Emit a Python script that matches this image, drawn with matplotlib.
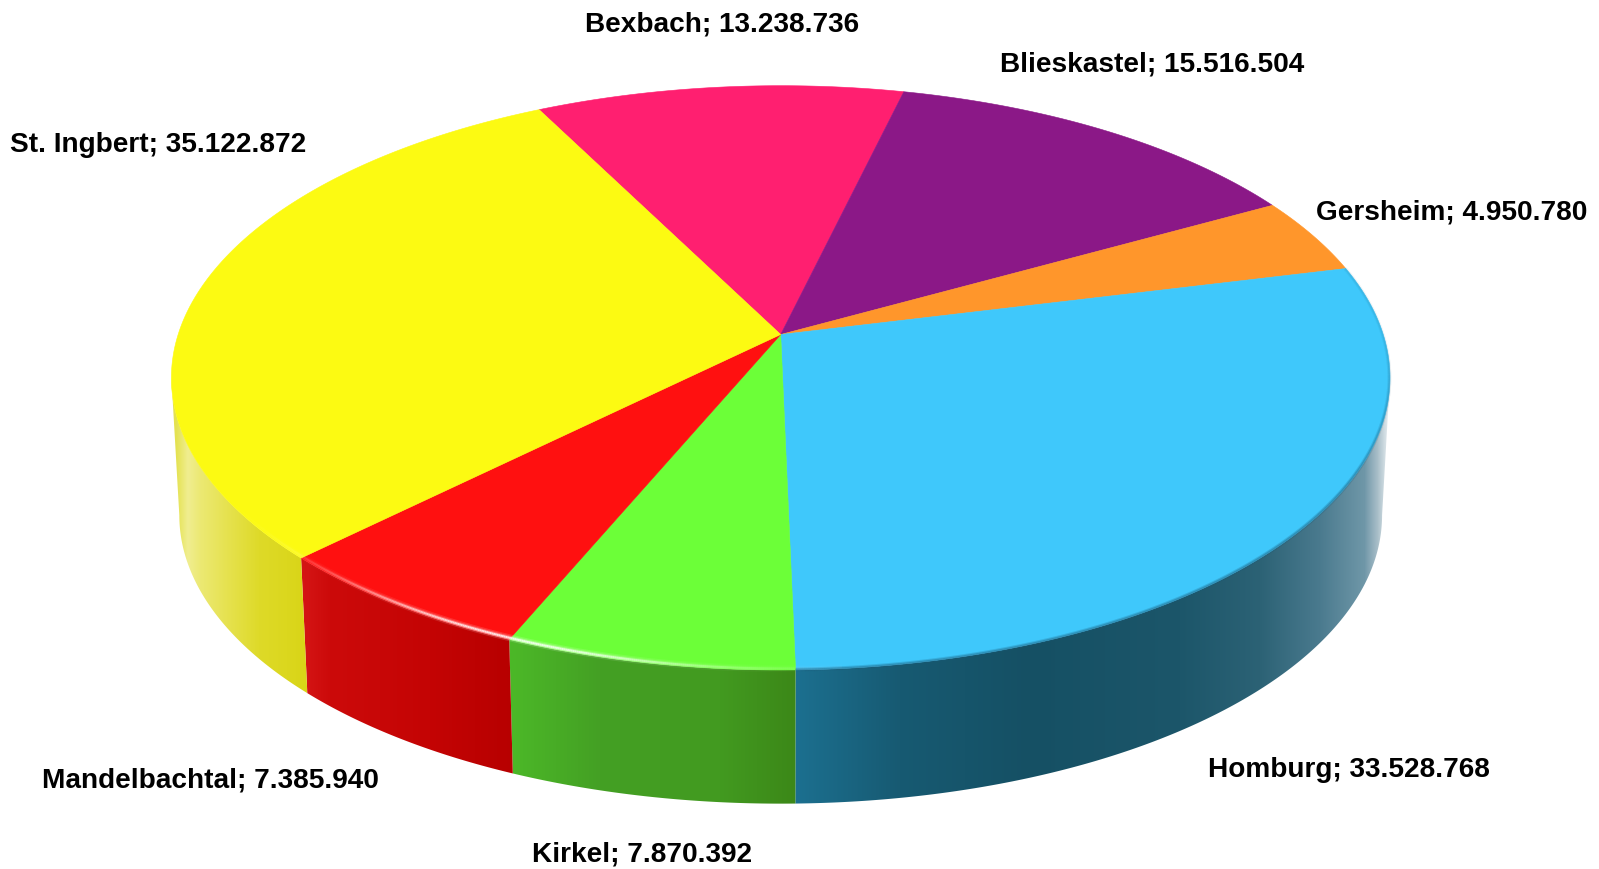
#!/usr/bin/env python3
"""Perspective 3D pie: Bexbach ... St. Ingbert, drawn as polygons in pixel space."""
import numpy as np
import matplotlib
matplotlib.use("Agg")
import matplotlib.pyplot as plt
from matplotlib.collections import LineCollection
from matplotlib.colors import to_rgb
from matplotlib.patches import Polygon

towns = ["Bexbach", "Blieskastel", "Gersheim", "Homburg", "Kirkel", "Mandelbachtal", "St. Ingbert"]
values = [13238736, 15516504, 4950780, 33528768, 7870392, 7385940, 35122872]
top_colors = ["#FF1F70", "#8B1887", "#FF962B", "#3FC8FB", "#6CFF38", "#FF1010", "#FCFA12"]
label_pos = [(585, 25), (999.5, 64), (1316.5, 213), (1208.5, 770), (532, 854.5), (42, 781), (10, 145)]

# side shading: (image x, colour) stops per slice
side_stops = {
    "St. Ingbert": [(176, "#E4E250"), (188, "#F0EE90"), (200, "#ECE974"), (227, "#E6E250"), (260, "#DEDA28"), (315, "#D8D414")],
    "Mandelbachtal": [(306, "#D41414"), (330, "#CC0A0A"), (430, "#C40404"), (520, "#B60000")],
    "Kirkel": [(512, "#4CB828"), (600, "#44A024"), (720, "#429A20"), (795, "#3C8818")],
    "Homburg": [(795, "#1C7090"), (900, "#175A72"), (1030, "#155064"), (1180, "#1C566A"), (1260, "#2C6275"),
                (1320, "#4A7A8E"), (1365, "#6F97A8"), (1378, "#A8BEC8"), (1388, "#E0E8EC")],
}

CX, CY, HALF_W, FAR, NEAR = 780.7, 334.5, 609.3, 248.8, 335.5
START = 117.0
DEPTH_SCALE, CY_BOTTOM = 0.987, 472.5

k = (NEAR - FAR) / (NEAR + FAR)
B = FAR * (1 + k)
A = HALF_W * np.sqrt(1 - k ** 2)
TANGENT = np.degrees(np.arcsin(k))          # angle of the left/right extreme of the outline


def project(deg, r=1.0, bottom=False):
    t = np.radians(deg)
    u, v = r * np.cos(t), r * np.sin(t)
    w = 1 + k * v
    s, cy = (DEPTH_SCALE, CY_BOTTOM) if bottom else (1.0, CY)
    return CX + s * A * u / w, cy - s * B * v / w


def gradient(stops, x):
    xs = [p[0] for p in stops]
    rgb = np.array([to_rgb(p[1]) for p in stops])
    return np.column_stack([np.interp(x, xs, rgb[:, i]) for i in range(3)])


def rim_segments(angs, r):
    x, y = project(angs, r=r)
    return [[(x[i], y[i]), (x[i + 1], y[i + 1])] for i in range(len(angs) - 1)]


fig = plt.figure(figsize=(15.99, 8.69), dpi=100)
ax = fig.add_axes([0, 0, 1, 1])

edges = START - np.concatenate([[0], np.cumsum(values)]) / sum(values) * 360

# sides first, the top surface then hides what overlaps
for name, a0, a1 in zip(towns, edges[:-1], edges[1:]):
    if name not in side_stops:
        continue
    angs = np.linspace(min(a0, -TANGENT), max(a1, -180 + TANGENT), 300)
    xt, yt = project(angs)
    xb, yb = project(angs, bottom=True)
    poly = Polygon(np.column_stack([np.r_[xt, xb[::-1]], np.r_[yt, yb[::-1]]]), closed=True,
                   facecolor="none", edgecolor="none", transform=ax.transData)
    ax.add_patch(poly)
    x0, x1 = min(xt.min(), xb.min()), max(xt.max(), xb.max())
    grid = np.linspace(x0, x1, int(x1 - x0) + 1)
    im = ax.imshow(gradient(side_stops[name], grid)[None, :, :], extent=(x0, x1, 869, 0), aspect="auto",
                   interpolation="bilinear", zorder=2)
    im.set_clip_path(poly)

for col, a0, a1 in zip(top_colors, edges[:-1], edges[1:]):
    x, y = project(np.linspace(a0, a1, 300))
    ax.fill(np.r_[CX, x], np.r_[CY, y], facecolor=col, edgecolor=col, linewidth=0.4, zorder=3)

# rim: white glint on the red/green part, dark soft edge on the blue part
angs = np.linspace(-150, -85, 400)
segs = rim_segments(angs, 0.996)
glint = np.exp(-((angs[:-1] + 113) / 16) ** 2)
for lw, alpha in [(5.0, 0.15), (3.0, 0.3), (1.5, 0.8)]:
    cols = np.column_stack([np.ones((len(segs), 3)), glint * alpha])
    ax.add_collection(LineCollection(segs, colors=cols, linewidths=lw, zorder=4))

angs = np.linspace(edges[4], edges[3], 400)
segs = rim_segments(angs, 0.999)
fade = np.clip((10 - angs[:-1]) / 40, 0.25, 1)     # faint at the far end, stronger towards the front
for lw, alpha in [(2.8, 0.22), (1.3, 0.35)]:
    cols = np.column_stack([np.tile(to_rgb("#1A5A78"), (len(segs), 1)), fade * alpha])
    ax.add_collection(LineCollection(segs, colors=cols, linewidths=lw, zorder=4))

for name, v, (lx, ly) in zip(towns, values, label_pos):
    ax.text(lx, ly, f"{name}; {v:,}".replace(",", "."), ha="left", va="center",
            fontsize=20.2, fontweight="bold", family="Liberation Sans", color="black", zorder=5)

ax.set_xlim(0, 1599); ax.set_ylim(869, 0); ax.axis("off")
fig.savefig("out.png", dpi=100, facecolor="white")
